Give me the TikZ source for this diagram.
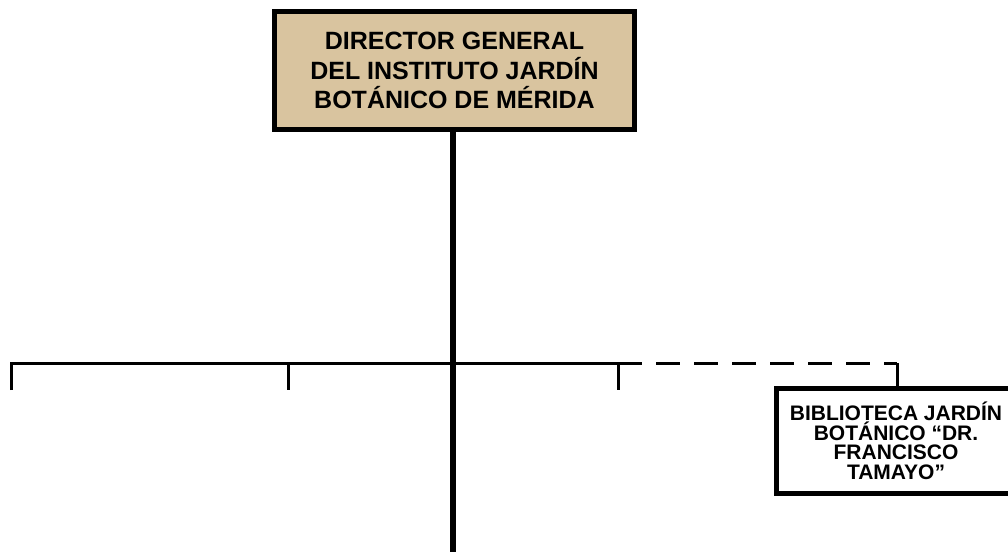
\documentclass[tikz,border=0pt]{standalone}
\usepackage{fontspec}
\setmainfont{Liberation Sans}
\usetikzlibrary{positioning}
\definecolor{tostado}{RGB}{217,196,159}

\begin{document}
\begin{tikzpicture}[x=1pt,y=-1pt,
        cargo/.style={draw, line width=5pt, align=center, inner sep=0pt},
        rama/.style={line width=3pt},
        asesoria/.style={rama, dash pattern=on 24pt off 14pt}]
        \useasboundingbox (0,0) rectangle (1008,552);

        % cajas
        \node[cargo, fill=tostado, minimum width=360, minimum height=118,
              font=\fontsize{25}{29.5}\selectfont\bfseries]
              (director) at (454.5,70.5)
              {DIRECTOR GENERAL\\DEL INSTITUTO JARDÍN\\BOTÁNICO DE MÉRIDA};
        \node[cargo, fill=white, minimum width=239, minimum height=105,
              font=\fontsize{21}{19.5}\selectfont\bfseries]
              (biblioteca) at (896,441)
              {BIBLIOTECA JARDÍN\\BOTÁNICO “DR.\\FRANCISCO\\TAMAYO”};

        % puntos de la barra
        \coordinate (fondo) at (453,552);
        \coordinate (cruce) at (453,363);
        \coordinate (barraIzq) at (11,363);
        \coordinate (barraDer) at (618,363);
        \coordinate (barraBib) at (897,363);
        \coordinate (medio) at (288,363);

        % linea de mando
        \draw[line width=6pt] (fondo |- director.south) -- (fondo);
        \draw[rama] (11,390) -- (barraIzq) -- (barraDer) -- (618,390);
        \draw[rama] (medio) -- (288,390);

        % biblioteca
        \draw[asesoria] (barraDer) -- (barraBib);
        \draw[rama] (barraBib) -- (barraBib |- biblioteca.north);
    \end{tikzpicture}
\end{document}
